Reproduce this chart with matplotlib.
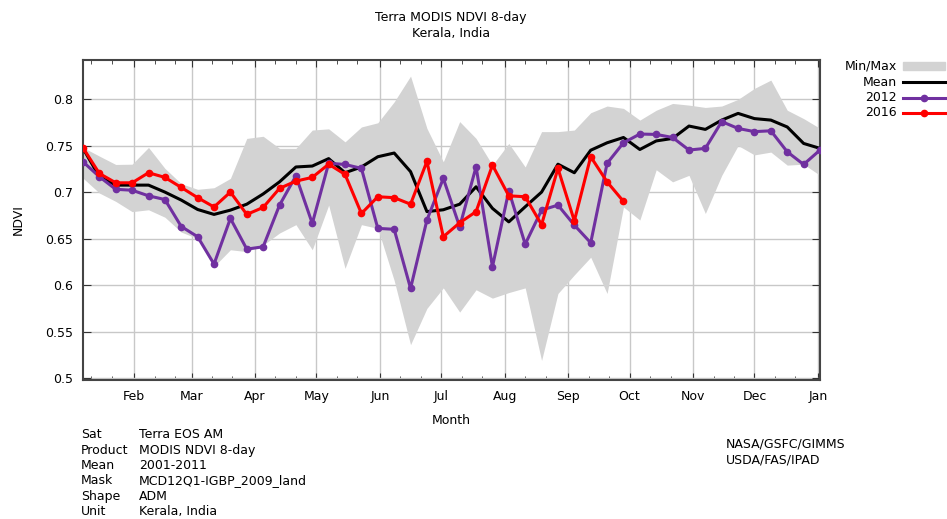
import numpy as np
import matplotlib
matplotlib.use("Agg")
import matplotlib.pyplot as plt
from matplotlib.lines import Line2D
from matplotlib.patches import Rectangle
from matplotlib import font_manager

# 8-day composites, 46 per year
mean_ndvi = [0.747, 0.7165, 0.7075, 0.7075, 0.7075, 0.700, 0.6914, 0.6813, 0.676, 0.6806,
             0.687, 0.698, 0.711, 0.727, 0.728, 0.736, 0.7208, 0.727, 0.738, 0.742,
             0.722, 0.679, 0.681, 0.687, 0.7057, 0.6825, 0.668, 0.6842, 0.700, 0.730,
             0.7208, 0.745, 0.753, 0.7587, 0.7458, 0.755, 0.7577, 0.771, 0.7674, 0.7774,
             0.7846, 0.779, 0.7774, 0.770, 0.7523, 0.747]
max_ndvi = [0.748, 0.7387, 0.7297, 0.730, 0.748, 0.7255, 0.709, 0.703, 0.7047, 0.7147,
            0.7577, 0.760, 0.747, 0.747, 0.7667, 0.768, 0.754, 0.770, 0.7745, 0.797,
            0.8247, 0.7685, 0.7326, 0.7758, 0.7577, 0.729, 0.7523, 0.727, 0.765, 0.765,
            0.7667, 0.7853, 0.7925, 0.790, 0.7774, 0.788, 0.7953, 0.7935, 0.791, 0.7925,
            0.7997, 0.8115, 0.8204, 0.788, 0.779, 0.7685]
min_ndvi = [0.715, 0.699, 0.690, 0.679, 0.681, 0.673, 0.657, 0.650, 0.620, 0.638,
            0.636, 0.643, 0.656, 0.665, 0.638, 0.686, 0.618, 0.665, 0.661, 0.605,
            0.536, 0.575, 0.597, 0.571, 0.595, 0.586, 0.592, 0.597, 0.519, 0.591,
            0.611, 0.630, 0.591, 0.684, 0.670, 0.724, 0.711, 0.718, 0.677, 0.718,
            0.750, 0.740, 0.743, 0.729, 0.730, 0.718]
ndvi_2012 = [0.7326, 0.7165, 0.703, 0.702, 0.696, 0.692, 0.663, 0.652, 0.6226, 0.6717,
             0.6387, 0.6412, 0.686, 0.7174, 0.6663, 0.731, 0.7297, 0.7255, 0.661, 0.660,
             0.5965, 0.670, 0.7147, 0.6627, 0.7272, 0.6197, 0.7014, 0.644, 0.6806, 0.686,
             0.6645, 0.6455, 0.7309, 0.753, 0.7624, 0.762, 0.7587, 0.7452, 0.747, 0.7758,
             0.7684, 0.765, 0.7659, 0.7433, 0.7297, 0.7452]
ndvi_2016 = [0.7476, 0.720, 0.710, 0.710, 0.7208, 0.7158, 0.705, 0.694, 0.684, 0.700,
             0.676, 0.6835, 0.704, 0.7118, 0.7158, 0.730, 0.719, 0.677, 0.695, 0.694,
             0.687, 0.733, 0.652, 0.667, 0.679, 0.729, 0.696, 0.695, 0.665, 0.7255,
             0.669, 0.738, 0.711, 0.690]

month_labels = ["Feb", "Mar", "Apr", "May", "Jun", "Jul", "Aug", "Sep", "Oct", "Nov", "Dec", "Jan"]
month_days = [32, 60, 91, 121, 152, 182, 213, 244, 274, 305, 335, 366]
month_starts = [1] + month_days

info_keys = ["Sat", "Product", "Mean", "Mask", "Shape", "Unit"]
info_vals = ["Terra EOS AM", "MODIS NDVI 8-day", "2001-2011", "MCD12Q1-IGBP_2009_land", "ADM", "Kerala, India"]

names = {f.name for f in font_manager.fontManager.ttflist}
fam = "DejaVu Sans Condensed" if "DejaVu Sans Condensed" in names else "DejaVu Sans"
plt.rcParams["font.family"] = [fam, "DejaVu Sans"]
plt.rcParams["font.size"] = 9

# x position of each composite (day of year)
doy = 7 + 8 * np.arange(46)
doy16 = doy[:len(ndvi_2016)]

PURPLE = "#7030a0"
W, H = 947, 519
fig = plt.figure(figsize=(W / 100, H / 100), dpi=100)
ax = fig.add_axes([83 / W, 1 - 380 / H, (820 - 83) / W, 320 / H])

ax.fill_between(doy, min_ndvi, max_ndvi, color="#d3d3d3", lw=0, zorder=1)
ax.plot(doy, mean_ndvi, color="black", lw=2.2, zorder=3)
ax.plot(doy, ndvi_2012, color=PURPLE, lw=2.2, marker="o", ms=4.5, zorder=4)
ax.plot(doy16, ndvi_2016, color="#ff0000", lw=2.2, marker="o", ms=4.5, zorder=5)

ax.set_xlim(7, 367)
ax.set_ylim(0.498, 0.842)
ax.set_xticks(month_days)
ax.set_xticklabels(month_labels)
minor = [d + k for d in month_starts for k in (10, 20) if 7 < d + k < 367]
ax.set_xticks(minor, minor=True)
ax.set_yticks(np.arange(0.5, 0.801, 0.05))
ax.set_yticklabels(["0.5", "0.55", "0.6", "0.65", "0.7", "0.75", "0.8"])
ax.grid(True, which="major", color="#c8c8c8", lw=1, zorder=0)
ax.set_axisbelow(True)
ax.tick_params(which="both", direction="in", top=True, right=True, colors="#333333",
               labelcolor="black")
ax.tick_params(axis="x", which="major", length=5, pad=7)
ax.tick_params(axis="x", which="minor", length=3)
ax.tick_params(axis="y", length=6, pad=7)
for s in ax.spines.values():
    s.set_color("#444444")
    s.set_linewidth(1.5)

ax.set_xlabel("Month", labelpad=8)
ax.set_ylabel("NDVI", labelpad=15)

fig.text(451 / W, 1 - 18 / H, "Terra MODIS NDVI 8-day", ha="center", va="center")
fig.text(451 / W, 1 - 33 / H, "Kerala, India", ha="center", va="center")

# legend drawn by hand: right-aligned labels, handles on the right
leg_labels = ["Min/Max", "Mean", "2012", "2016"]
leg_y = [66, 82, 97.5, 113]
for lab, yy in zip(leg_labels, leg_y):
    fig.text(897 / W, 1 - yy / H, lab, ha="right", va="center")
fig.add_artist(Rectangle((903 / W, 1 - 69.5 / H), 42 / W, 7 / H, color="#d3d3d3",
                         transform=fig.transFigure))
fig.add_artist(Line2D([903 / W, 945 / W], [1 - 82 / H] * 2, color="black", lw=2.2,
                      transform=fig.transFigure))
fig.add_artist(Line2D([903 / W, 945 / W], [1 - 97.5 / H] * 2, color=PURPLE, lw=2.2,
                      transform=fig.transFigure))
fig.add_artist(Line2D([924 / W], [1 - 97.5 / H], color=PURPLE, marker="o", ms=4.5,
                      transform=fig.transFigure))
fig.add_artist(Line2D([903 / W, 945 / W], [1 - 113 / H] * 2, color="#ff0000", lw=2.2,
                      transform=fig.transFigure))
fig.add_artist(Line2D([924 / W], [1 - 113 / H], color="#ff0000", marker="o", ms=4.5,
                      transform=fig.transFigure))

# metadata block
for i, (k, v) in enumerate(zip(info_keys, info_vals)):
    yy = 1 - (435 + 15.3 * i) / H
    fig.text(81 / W, yy, k, ha="left", va="center")
    fig.text(139 / W, yy, v, ha="left", va="center")
fig.text(726 / W, 1 - 444 / H, "NASA/GSFC/GIMMS", ha="left", va="center")
fig.text(726 / W, 1 - 460 / H, "USDA/FAS/IPAD", ha="left", va="center")

fig.savefig("out.png", dpi=100)
